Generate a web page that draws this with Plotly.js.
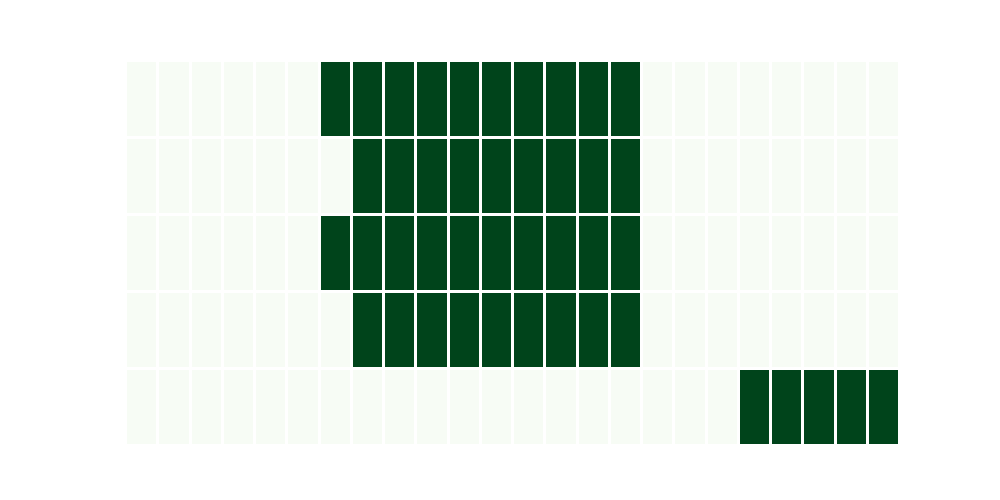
<!DOCTYPE html>
<html>
<head>
<meta charset="utf-8">
<script src="https://cdn.plot.ly/plotly-3.0.1.min.js"></script>
<style>html,body{margin:0;padding:0;background:#fff;}#chart{width:1000px;height:500px;}</style>
</head>
<body>
<div id="chart"></div>
<script>
var columns = ["1","2","3","4","5","6","7","8","9","10","11","12","13","14","15","16","17","18","19","20","21","22","23","24"];
var rows = ["A","B","C","D","E"];
var rowA = [0,0,0,0,0,0,1,1,1,1,1,1,1,1,1,1,0,0,0,0,0,0,0,0];
var rowB = [0,0,0,0,0,0,0,1,1,1,1,1,1,1,1,1,0,0,0,0,0,0,0,0];
var rowC = [0,0,0,0,0,0,1,1,1,1,1,1,1,1,1,1,0,0,0,0,0,0,0,0];
var rowD = [0,0,0,0,0,0,0,1,1,1,1,1,1,1,1,1,0,0,0,0,0,0,0,0];
var rowE = [0,0,0,0,0,0,0,0,0,0,0,0,0,0,0,0,0,0,0,1,1,1,1,1];

var trace = {
  type: "heatmap",
  x: columns,
  y: rows,
  z: [rowA, rowB, rowC, rowD, rowE],
  zmin: 0, zmax: 1,
  colorscale: [[0, "rgb(247,252,245)"], [1, "rgb(0,68,27)"]],
  showscale: false,
  xgap: 3,
  ygap: 3,
  hoverinfo: "x+y+z"
};

var layout = {
  width: 1000, height: 500,
  margin: {l: 126, r: 100, t: 61, b: 54},
  paper_bgcolor: "#fff",
  plot_bgcolor: "#fff",
  xaxis: {visible: false, showgrid: false, zeroline: false},
  yaxis: {visible: false, showgrid: false, zeroline: false, autorange: "reversed"}
};

Plotly.newPlot("chart", [trace], layout, {displayModeBar: false, staticPlot: true});
</script>
</body>
</html>
